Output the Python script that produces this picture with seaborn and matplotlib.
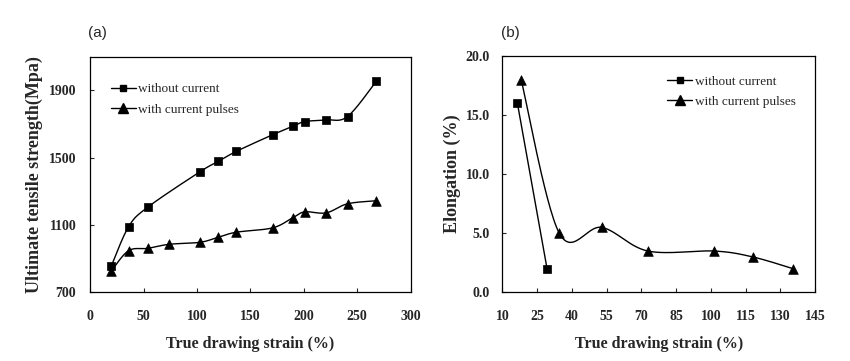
import numpy as np
import pandas as pd
import matplotlib
matplotlib.use('Agg')
import matplotlib.pyplot as plt
from matplotlib.lines import Line2D
import seaborn as sns

# (a) ultimate tensile strength
strain_a = [20, 36, 54, 103, 120, 137, 171, 190, 201, 221, 241, 268]
uts_no_current = [857, 1088, 1205, 1416, 1477, 1537, 1636, 1686, 1714, 1724, 1744, 1954]
strain_a_pulse = [20, 36, 54, 74, 103, 120, 137, 171, 190, 201, 221, 241, 268]
uts_pulses = [827, 946, 960, 984, 996, 1026, 1056, 1082, 1143, 1177, 1171, 1225, 1243]

# (b) elongation
strain_b_no = [16.5, 29.3]
elong_no_current = [16.0, 2.0]
strain_b_pulse = [18.1, 34.6, 52.9, 72.8, 101.5, 118.1, 135.6]
elong_pulses = [18.0, 5.0, 5.5, 3.5, 3.5, 3.0, 2.0]

LBL_NO = "without current"
LBL_PULSE = "with current pulses"


def smooth(x, y, n=30):
    """Catmull-Rom style smoothing (like a spreadsheet 'smoothed line')."""
    p = np.column_stack([x, y]).astype(float)
    if len(p) < 3:
        return p[:, 0], p[:, 1]
    ext = np.vstack([p[0], p, p[-1]])
    out = []
    t = np.linspace(0, 1, n)[:, None]
    for i in range(1, len(ext) - 2):
        p0, p1, p2, p3 = ext[i - 1], ext[i], ext[i + 1], ext[i + 2]
        c1 = p1 + (p2 - p0) / 6
        c2 = p2 - (p3 - p1) / 6
        seg = ((1 - t) ** 3) * p1 + 3 * ((1 - t) ** 2) * t * c1 + 3 * (1 - t) * t ** 2 * c2 + t ** 3 * p2
        out.append(seg if i == 1 else seg[1:])
    out = np.vstack(out)
    return out[:, 0], out[:, 1]


def draw_series(ax, x, y, marker, ms):
    sx, sy = smooth(x, y)
    sns.lineplot(x=sx, y=sy, ax=ax, color='black', linewidth=1.0, sort=False,
                 estimator=None)
    sns.scatterplot(x=x, y=y, ax=ax, marker=marker, color='black', s=ms,
                    edgecolor='black', linewidth=0.5, zorder=3)


sns.set_style("ticks")
plt.rcParams['font.family'] = ['Liberation Serif', 'DejaVu Serif']

fig = plt.figure(figsize=(8.5, 3.61), dpi=100)
ax_a = fig.add_axes([0.106, 0.191, 0.377, 0.652])
ax_b = fig.add_axes([0.591, 0.190, 0.368, 0.655])

label_font = dict(fontsize=11.5, fontweight='bold')

# panel (a)
draw_series(ax_a, strain_a, uts_no_current, 's', 30)
draw_series(ax_a, strain_a_pulse, uts_pulses, '^', 48)
ax_a.set_xlim(0, 300)
ax_a.set_ylim(700, 2100)
ax_a.set_xticks([0, 50, 100, 150, 200, 250, 300])
ax_a.set_yticks([700, 1100, 1500, 1900])
ax_a.set_xlabel("True drawing strain (%)", labelpad=9, **label_font)
ax_a.set_ylabel("Ultimate tensile strength(Mpa)", labelpad=4, fontsize=13, fontweight='bold')

# panel (b)
draw_series(ax_b, strain_b_no, elong_no_current, 's', 30)
draw_series(ax_b, strain_b_pulse, elong_pulses, '^', 48)
ax_b.set_xlim(10, 145)
ax_b.set_ylim(0, 20)
ax_b.set_xticks(np.arange(10, 146, 15))
ax_b.set_yticks([0, 5, 10, 15, 20])
ax_b.set_yticklabels([f"{v:.1f}" for v in [0, 5, 10, 15, 20]])
ax_b.set_xlabel("True drawing strain (%)", labelpad=9, **label_font)
ax_b.set_ylabel("Elongation (%)", labelpad=3, fontsize=13, fontweight='bold')

handles = [
    Line2D([], [], color='black', lw=1.0, marker='s', markersize=5),
    Line2D([], [], color='black', lw=1.0, marker='^', markersize=7),
]
setups = [(ax_a, (0.048, 0.91), 10), (ax_b, (0.51, 0.94), 9)]
for ax, anchor, ypad in setups:
    for s in ax.spines.values():
        s.set_visible(True)
        s.set_linewidth(0.9)
        s.set_color('black')
    ax.tick_params(direction='in', length=3, width=0.8)
    ax.tick_params(axis='x', pad=13)
    ax.tick_params(axis='y', pad=ypad)
    for lab in ax.get_xticklabels() + ax.get_yticklabels():
        lab.set_fontsize(10)
        lab.set_fontweight('bold')
    ax.legend(handles, [LBL_NO, LBL_PULSE], loc='upper left', bbox_to_anchor=anchor,
              frameon=False, fontsize=9.5, handlelength=1.9, handletextpad=0.2,
              labelspacing=0.6, borderaxespad=0)

fig.text(0.104, 0.898, "(a)", fontsize=11, family='Liberation Sans')
fig.text(0.590, 0.898, "(b)", fontsize=11, family='Liberation Sans')

fig.savefig("out.png", dpi=100)
